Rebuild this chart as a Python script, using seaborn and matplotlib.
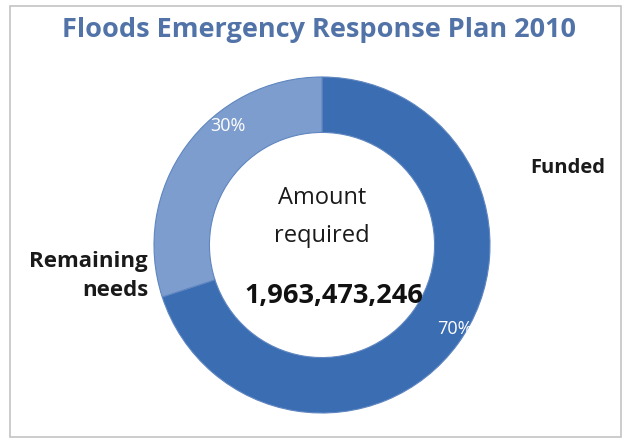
import matplotlib
matplotlib.use("Agg")
import matplotlib.pyplot as plt
from matplotlib.patches import Rectangle
import seaborn as sns

# data
labels = ['Funded', 'Remaining needs']
shares = [70, 30]
pct_labels = ['70%', '30%']
amount_required = '1,963,473,246'
title = 'Floods Emergency Response Plan 2010'

colors = ['#3b6db3', '#7d9dce']

sns.set_theme(style='white')
plt.rcParams['font.family'] = ['Open Sans', 'DejaVu Sans']

W, H = 629, 443
fig = plt.figure(figsize=(W / 100, H / 100), dpi=100)
ax = fig.add_axes([0, 0, 1, 1])

# thin frame around the picture
fig.patches.append(Rectangle((10 / W, 6 / H), 611 / W, 431 / H, transform=fig.transFigure,
                             fill=False, edgecolor='#c4c4c4', linewidth=1.2))

cx, cy, r = 322, H - 245, 168
wedges, _ = ax.pie(shares, colors=colors, startangle=90, counterclock=False,
                   center=(cx, cy), radius=r, frame=True,
                   wedgeprops=dict(width=r * 0.33, edgecolor='#5f86c0', linewidth=0.8))
ax.set_xlim(0, W)
ax.set_ylim(0, H)
ax.set_aspect('equal')
ax.axis('off')

ax.text(319, H - 30, title, ha='center', va='center', fontsize=19.5, fontweight='bold',
        color='#5173a8')

# percentages on the ring
ax.text(455, H - 329, pct_labels[0], ha='center', va='center', fontsize=13, color='white')
ax.text(228, H - 126, pct_labels[1], ha='center', va='center', fontsize=13, color='white')

# category labels
ax.text(568, H - 168, labels[0], ha='center', va='center', fontsize=14.5, fontweight='bold',
        color='#1a1a1a')
ax.text(148, H - 261, 'Remaining', ha='right', va='center', fontsize=16,
        fontweight='bold', color='#1a1a1a')
ax.text(148, H - 291, 'needs', ha='right', va='center', fontsize=16,
        fontweight='bold', color='#1a1a1a')

# centre text
ax.text(cx, H - 198, 'Amount', ha='center', va='center', fontsize=17, color='#1a1a1a')
ax.text(cx, H - 236, 'required', ha='center', va='center', fontsize=17, color='#1a1a1a')
ax.text(334, H - 296, amount_required, ha='center', va='center', fontsize=19.5,
        fontweight='bold', color='#111111')

fig.savefig('out.png', dpi=100, facecolor='white')
